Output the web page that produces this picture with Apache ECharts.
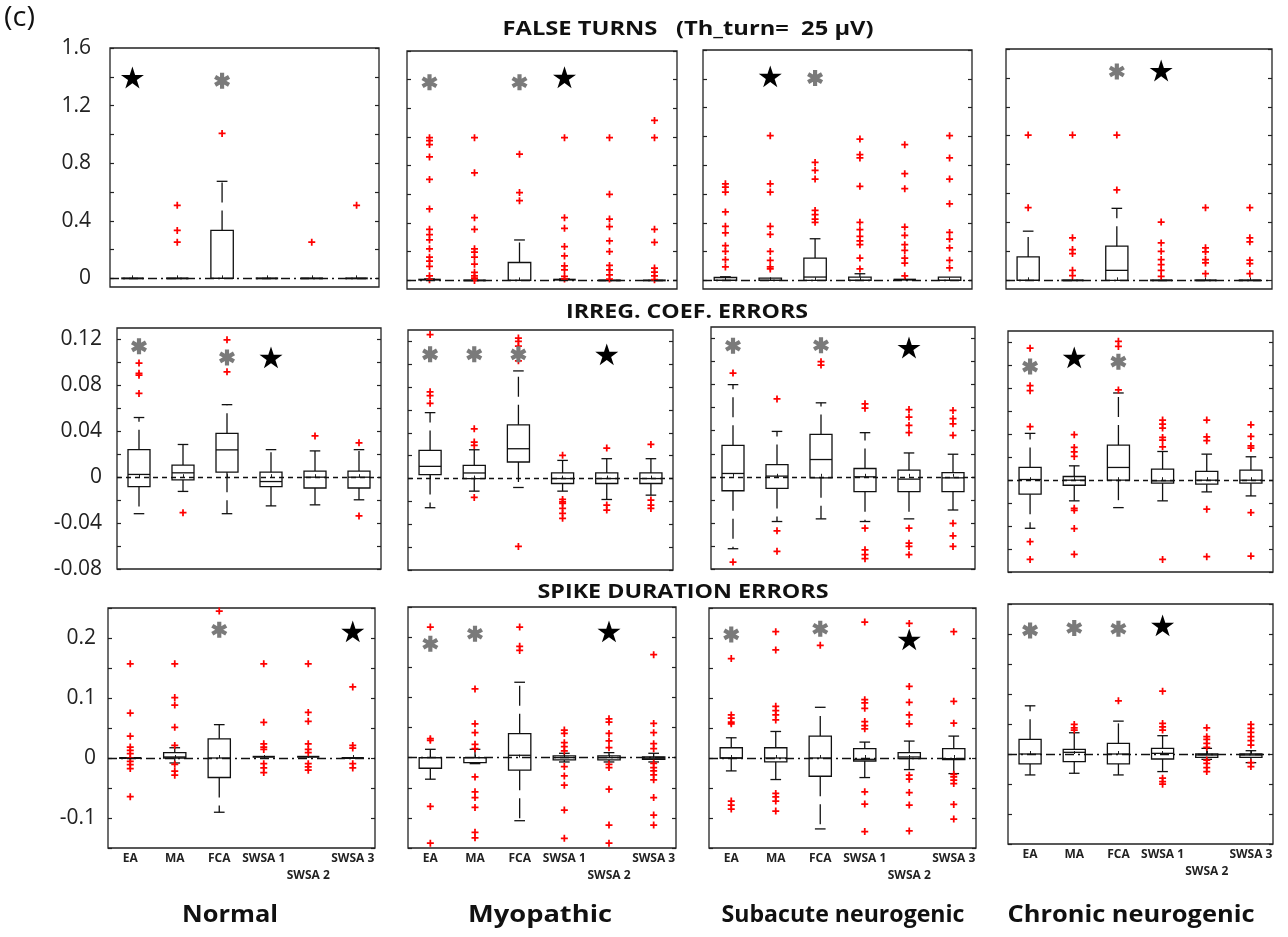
<!DOCTYPE html>
<html><head><meta charset="utf-8">
<script src="https://cdn.jsdelivr.net/npm/echarts@6/dist/echarts.min.js"></script>
<style>html,body{margin:0;padding:0;background:#fff}#c{width:1288px;height:937px}</style>
</head><body><div id="c"></div>
<script>
// ---------- categories / labels ----------
const categories = ['EA','MA','FCA','SWSA 1','SWSA 2','SWSA 3'];
const groupNames = ['Normal','Myopathic','Subacute neurogenic','Chronic neurogenic'];
const rowTitles = ['FALSE TURNS   (Th_turn=  25 \u03bcV)','IRREG. COEF. ERRORS','SPIKE DURATION ERRORS'];

// ---------- y tick values / labels ----------
const ftTicks = [0,0.2,0.4,0.6,0.8,1.0,1.2,1.4,1.6];
const ftTickLabels = [0,0.4,0.8,1.2,1.6];
const icTicks = [-0.08,-0.06,-0.04,-0.02,0,0.02,0.04,0.06,0.08,0.10,0.12];
const icTickLabels = [-0.08,-0.04,0,0.04,0.08,0.12];
const sdTicks = [-0.15,-0.1,-0.05,0,0.05,0.1,0.15,0.2,0.25];
const sdTickLabels = [-0.1,0,0.1,0.2];
const yMins = [-0.06,-0.08,-0.15];
const yMaxs = [1.6,0.13,0.25];

// ---------- FALSE TURNS: boxes [min,q1,median,q3,max] per category ----------
const ftNormBox = [[0,0,0,0,0],[0,0,0,0,0],[0,0,0,0.333,0.674],[0,0,0,0,0],[0,0,0,0,0],[0,0,0,0,0]];
const ftNormOut = [[],[0.507,0.333,0.251],[1.007],[],[0.251],[0.507]];
const ftNormAst = [[2,1.372]];
const ftNormStar = [[0,1.395]];

const ftMyoBox = [[0,0,0,0.005,0.01],[0,0,0,0,0],[0,0,0,0.125,0.282],[0,0,0,0.005,0.01],[0,0,0,0,0],[0,0,0,0,0]];
const ftMyoOut = [
 [0.995,0.975,0.947,0.861,0.704,0.498,0.356,0.319,0.282,0.220,0.162,0.134,0.097,0.032,0.005],
 [0.995,0.75,0.4375,0.356,0.220,0.197,0.162,0.113,0.056,0.032,0.016,0.0],
 [0.880,0.613,0.556],
 [0.995,0.4375,0.363,0.236,0.171,0.102,0.074,0.028,0.009],
 [0.995,0.6,0.428,0.375,0.275,0.201,0.104,0.074,0.039,0.009],
 [1.116,0.995,0.356,0.266,0.086,0.058,0.032,0.005]];
const ftMyoAst = [[0,1.382],[2,1.382]];
const ftMyoStar = [[3,1.417]];

const ftSubBox = [[0,0,0,0.02,0.025],[0,0,0,0.016,0.016],[0,0,0.023,0.155,0.289],[0,0,0,0.023,0.046],[0,0,0,0.005,0.005],[0,0,0,0.023,0.023]];
const ftSubOut = [
 [0.671,0.648,0.613,0.475,0.375,0.329,0.241,0.201,0.144,0.093],
 [1.005,0.671,0.613,0.375,0.319,0.201,0.139,0.093,0.079],
 [0.819,0.764,0.704,0.486,0.456,0.426,0.403],
 [0.981,0.873,0.850,0.653,0.403,0.352,0.306,0.275,0.248,0.155,0.079],
 [0.942,0.741,0.637,0.370,0.313,0.248,0.208,0.155,0.120,0.032],
 [1.005,0.850,0.704,0.532,0.333,0.287,0.225,0.139,0.086]];
const ftSubAst = [[2,1.405]];
const ftSubStar = [[1,1.417]];

const ftChrBox = [[0,0,0,0.162,0.340],[0,0,0,0,0],[0,0,0.069,0.236,0.498],[0,0,0,0,0],[0,0,0,0,0],[0,0,0,0,0]];
const ftChrOut = [
 [1.005,0.502],
 [1.005,0.294,0.213,0.185,0.069,0.032],
 [1.005,0.625],
 [0.403,0.259,0.201,0.144,0.109,0.069,0.028],
 [0.502,0.225,0.197,0.144,0.120,0.046],
 [0.502,0.294,0.266,0.139,0.116,0.046]];
const ftChrAst = [[2,1.444]];
const ftChrStar = [[3,1.451]];

// ---------- IRREG. COEF. ERRORS ----------
const icNormBox = [[-0.0318,-0.0082,0.0024,0.024,0.052],[-0.0124,-0.0024,0.0038,0.0106,0.0285],[-0.0318,0.0044,0.0238,0.0382,0.0632],[-0.025,-0.0082,-0.0038,0.0044,0.024],[-0.0241,-0.0094,0,0.0053,0.0229],[-0.0197,-0.0094,0,0.0053,0.024]];
const icNormOut = [[0.0994,0.0905,0.0889,0.073],[-0.0309],[0.1197,0.0918],[],[0.0359],[0.030,-0.0338]];
const icNormAst = [[0,0.114],[2,0.1044]];
const icNormStar = [[3,0.1044]];

const icMyoBox = [[-0.0255,0.0035,0.0107,0.0246,0.0577],[-0.011,0,0.0049,0.0116,0.0252],[-0.0078,0.0145,0.0261,0.047,0.0942],[-0.011,-0.0043,0,0.0049,0.0159],[-0.0183,-0.0043,0,0.0049,0.0174],[-0.0145,-0.0043,0,0.0049,0.0174]];
const icMyoOut = [
 [0.126,0.0759,0.0725,0.0658],
 [0.0435,0.0319,0.029,-0.0165],
 [0.123,0.12,0.116,0.103,-0.0594],
 [0.0203,-0.0183,-0.0203,-0.0217,-0.0261,-0.0304,-0.0348],
 [0.0267,-0.0232,-0.0275],
 [0.0299,-0.0188,-0.0232,-0.0261]];
const icMyoAst = [[0,0.1087],[1,0.1087],[2,0.1087]];
const icMyoStar = [[4,0.1087]];

const icSubBox = [[-0.0624,-0.0121,0.0029,0.0273,0.08],[-0.0388,-0.0101,0.0006,0.0106,0.0394],[-0.0365,-0.0009,0.015,0.0368,0.0642],[-0.0388,-0.0129,0,0.0072,0.0383],[-0.0365,-0.0129,-0.002,0.0058,0.0207],[-0.0288,-0.0129,-0.0009,0.0037,0.0196]];
const icSubOut = [
 [0.090,-0.074],
 [0.0676,-0.0469,-0.0647],
 [0.0999,0.097],
 [0.0633,0.0596,-0.0446,-0.0633,-0.0676,-0.071],
 [0.0584,0.0518,0.0446,0.0383,-0.0446,-0.0576,-0.0604,-0.0676],
 [0.0576,0.0504,0.046,0.036,-0.0403,-0.0512,-0.0604]];
const icSubAst = [[0,0.1137],[2,0.1142]];
const icSubStar = [[4,0.1122]];

const icChrBox = [[-0.0419,-0.0122,0.0006,0.0111,0.0408],[-0.018,-0.0044,0,0.0032,0.0125],[-0.0239,0,0.0111,0.0306,0.076],[-0.018,-0.0026,-0.0006,0.0096,0.025],[-0.0102,-0.0035,0,0.0076,0.0227],[-0.0137,-0.0026,0,0.0087,0.0204]];
const icChrOut = [
 [0.115,0.0824,0.078,0.0466,-0.0536,-0.069],
 [0.0396,0.0285,0.0247,0.0207,-0.0245,-0.0262,-0.0422,-0.0646],
 [0.121,0.1165,0.0786],
 [0.0524,0.0489,0.0454,0.0373,0.0349,0.0291,-0.069],
 [0.0524,0.0378,0.0344,-0.0253,-0.0667],
 [0.0483,0.0381,0.03,0.0279,-0.0282,-0.0661]];
const icChrAst = [[0,0.099],[2,0.1033]];
const icChrStar = [[1,0.107]];

// ---------- SPIKE DURATION ERRORS ----------
const sdNormBox = [[0,0,0,0,0],[-0.0083,0,0.0017,0.0088,0.0171],[-0.0904,-0.0325,0,0.032,0.0556],[0,0,0.001,0.002,0.002],[0,0,0.001,0.002,0.002],[0,0,0,0,0]];
const sdNormOut = [
 [0.157,0.075,0.0364,0.0182,0.0127,0.0072,0,-0.0055,-0.011,-0.0176,-0.0645],
 [0.157,0.1008,0.0882,0.0512,0.0209,-0.0105,-0.022,-0.0287],
 [0.245],
 [0.157,0.0595,0.0237,0.0182,0.0143,-0.0094,-0.0165,-0.0242],
 [0.157,0.076,0.0612,0.0237,0.0143,0.0088,-0.0094,-0.0149,-0.0204],
 [0.1185,0.0209,0.0165,-0.0094,-0.0165]];
const sdNormAst = [[2,0.2138]];
const sdNormStar = [[5,0.211]];

const sdMyoBox = [[-0.0358,-0.0176,0,0,0.0138],[-0.01,-0.0083,0,0,0.0138],[-0.1047,-0.0209,0.0039,0.0397,0.1251],[-0.0072,-0.0039,0,0.0028,0.0072],[-0.0072,-0.0039,0,0.0028,0.0083],[-0.0072,-0.0028,-0.001,0.001,0.0072]];
const sdMyoOut = [
 [0.2166,0.0314,0.0287,-0.081,-0.142],
 [0.1141,0.0562,0.0413,0.022,0.0149,-0.032,-0.0568,-0.0662,-0.0827,-0.124,-0.133],
 [0.2166,0.1847,0.178],
 [0.0458,0.0402,0.0248,0.0182,0.011,-0.0149,-0.0303,-0.0458,-0.0871,-0.134],
 [0.0645,0.059,0.0402,0.0276,0.0165,-0.011,-0.0165,-0.0524,-0.1119,-0.142],
 [0.1709,0.0568,0.0413,0.0232,0.0149,-0.0094,-0.0165,-0.022,-0.0287,-0.0369,-0.0662,-0.0954,-0.1119]];
const sdMyoAst = [[0,0.189],[1,0.2056]];
const sdMyoStar = [[4,0.2095]];

const sdSubBox = [[-0.0215,0,0,0.0171,0.0337],[-0.0359,-0.0066,0,0.0171,0.0442],[-0.1182,-0.0304,0,0.0365,0.0845],[-0.0326,-0.005,-0.0022,0.0155,0.0265],[-0.0193,-0.0011,0.0017,0.0088,0.0282],[-0.026,-0.0028,-0.0011,0.0155,0.0365]];
const sdSubOut = [
 [0.1657,0.0718,0.0663,0.0597,0.0569,-0.0718,-0.0785,-0.0851],
 [0.2105,0.1801,0.0862,0.079,0.0718,0.0635,-0.0591,-0.0646,-0.0718,-0.0884],
 [0.1878],
 [0.2265,0.0972,0.0917,0.0829,0.0608,0.0541,0.0486,-0.0564,-0.0768,-0.1227],
 [0.2243,0.1193,0.0928,0.0718,0.0569,-0.0287,-0.0354,-0.0575,-0.0785,-0.1215],
 [0.2105,0.0945,0.058,-0.0271,-0.0315,-0.037,-0.0425,-0.0773,-0.1017]];
const sdSubAst = [[0,0.206],[2,0.2155]];
const sdSubStar = [[4,0.1978]];

const sdChrBox = [[-0.0349,-0.0166,0,0.0244,0.0803],[-0.0321,-0.0127,0.0028,0.0078,0.0354],[-0.0349,-0.0166,0,0.0177,0.0548],[-0.0293,-0.0083,0.0011,0.0094,0.0305],[-0.0089,-0.0055,-0.0017,0,0.0094],[-0.0144,-0.0055,-0.0017,0,0.0055]];
const sdChrOut = [
 [],
 [0.0493,0.0437,0.0399],
 [0.0886],
 [0.1047,0.0509,0.0454,0.0399,-0.0404,-0.046,-0.0504],
 [0.0437,0.0288,0.0244,0.0177,0.0111,-0.01,-0.0155,-0.0227,-0.0293],
 [0.0493,0.0426,0.036,0.0288,0.0221,0.015,-0.0144,-0.021]];
const sdChrAst = [[0,0.206],[1,0.2099],[2,0.2088]];
const sdChrStar = [[3,0.2143]];

// ---------- lookup tables built from the arrays above ----------
const panelBoxes = [ftNormBox,ftMyoBox,ftSubBox,ftChrBox, icNormBox,icMyoBox,icSubBox,icChrBox, sdNormBox,sdMyoBox,sdSubBox,sdChrBox];
const panelOut = [ftNormOut,ftMyoOut,ftSubOut,ftChrOut, icNormOut,icMyoOut,icSubOut,icChrOut, sdNormOut,sdMyoOut,sdSubOut,sdChrOut];
const panelAst = [ftNormAst,ftMyoAst,ftSubAst,ftChrAst, icNormAst,icMyoAst,icSubAst,icChrAst, sdNormAst,sdMyoAst,sdSubAst,sdChrAst];
const panelStar = [ftNormStar,ftMyoStar,ftSubStar,ftChrStar, icNormStar,icMyoStar,icSubStar,icChrStar, sdNormStar,sdMyoStar,sdSubStar,sdChrStar];
const rowTicks = [ftTicks, icTicks, sdTicks];
const rowTickLabels = [ftTickLabels, icTickLabels, sdTickLabels];

// ---------- layout (pixels) ----------
const gridRects = [
 [110,48,269,239],[407,51,270,238],[703,50,269,239],[1006,49,266,240],
 [117,328,264,241],[408,330,265,240],[711,327,264,242],[1008,331,265,241],
 [108,608,267,240],[408,607,268,241],[709,608,267,240],[1008,604,265,240]];
const labelMargins = [19,15,12];
const FONT = 'Open Sans';

const PLUS = 'path://M3,0H5V3H8V5H5V8H3V5H0V3H3Z';
const STAR = 'path://M50,0L61.23,34.55L97.55,34.55L68.17,55.9L79.39,90.45L50,69.1L20.61,90.45L31.83,55.9L2.45,34.55L38.77,34.55Z';
const AST = 'path://M37,0H63V100H37Z M86.8,13.74L99.8,36.26L13.2,86.26L0.2,63.74Z M13.2,13.74L99.8,63.74L86.8,86.26L0.2,36.26Z';

function boxRender(params, api) {
  const cat = api.value(0);
  const lo = api.coord([cat, api.value(1)]);
  const q1 = api.coord([cat, api.value(2)]);
  const md = api.coord([cat, api.value(3)]);
  const q3 = api.coord([cat, api.value(4)]);
  const hi = api.coord([cat, api.value(5)]);
  const band = api.size([1, 0])[0];
  const hw = band * 0.25, cw = band * 0.12;
  const x = lo[0];
  const solid = {stroke:'#111', lineWidth:1.3, fill:'none'};
  const dashed = {stroke:'#111', lineWidth:1.3, fill:'none', lineDash:[20,8]};
  const ch = [];
  const line = (x1,y1,x2,y2,st) => ch.push({type:'line', shape:{x1,y1,x2,y2}, style:st});
  if (q3[1] - hi[1] > 0.5) { line(x, q3[1], x, hi[1], dashed); line(x-cw, hi[1], x+cw, hi[1], solid); }
  if (lo[1] - q1[1] > 0.5) { line(x, q1[1], x, lo[1], dashed); line(x-cw, lo[1], x+cw, lo[1], solid); }
  if (q1[1] - q3[1] < 1.5) {
    line(x-hw, q3[1], x+hw, q3[1], {stroke:'#111', lineWidth:2, fill:'none'});
  } else {
    ch.push({type:'rect', shape:{x:x-hw, y:q3[1], width:2*hw, height:q1[1]-q3[1]}, style:solid});
    line(x-hw, md[1], x+hw, md[1], solid);
  }
  return {type:'group', children: ch};
}

const fmt = v => String(+(+v).toFixed(2));

const grid = [], xAxis = [], yAxis = [], series = [];
for (let i = 0; i < 12; i++) {
  const r = Math.floor(i / 4), c = i % 4;
  const g = gridRects[i];
  grid.push({left:g[0], top:g[1], width:g[2], height:g[3], show:true, borderColor:'#222', borderWidth:1.3, backgroundColor:'transparent', containLabel:false, outerBoundsMode:'none'});
  xAxis.push({gridIndex:i, type:'category', data:categories, boundaryGap:true,
    axisLine:{show:false}, splitLine:{show:false},
    axisTick:{show:true, inside:true, alignWithLabel:true, length:3, lineStyle:{color:'#222'}},
    axisLabel:{show: r === 2, interval:0, fontSize:12, fontWeight:'bold', fontFamily:FONT, color:'#222', margin:2, lineHeight:17,
      formatter:(v, idx) => idx === 4 ? '\n' + v : v}});
  const tickCfg = {show:true, inside:true, length:4, customValues: rowTicks[r], lineStyle:{color:'#222', width:1.2}};
  yAxis.push({gridIndex:i, type:'value', min:yMins[r], max:yMaxs[r], position:'left',
    axisLine:{show:false}, splitLine:{show:false}, axisTick:tickCfg,
    axisLabel:{show: c === 0, customValues: rowTickLabels[r], formatter: fmt, fontSize:21, fontFamily:FONT, color:'#222', margin: labelMargins[r]}});
  yAxis.push({gridIndex:i, type:'value', min:yMins[r], max:yMaxs[r], position:'right',
    axisLine:{show:false}, splitLine:{show:false}, axisTick:tickCfg, axisLabel:{show:false}});

  const boxData = panelBoxes[i].map((b, k) => [k].concat(b));
  const outData = [];
  panelOut[i].forEach((arr, k) => arr.forEach(v => outData.push([k, v])));

  series.push({type:'scatter', xAxisIndex:i, yAxisIndex:2*i, data:outData, symbol:PLUS, symbolSize:7,
    itemStyle:{color:'#ff0000', opacity:1}, silent:true, z:3,
    markLine:{silent:true, symbol:['none','none'], label:{show:false}, animation:false,
      lineStyle:{color:'#111', width:1.3, type: r === 1 ? [5,4] : [9,4,2,4]}, data:[{yAxis:0}]}});
  series.push({type:'custom', xAxisIndex:i, yAxisIndex:2*i, data:boxData, renderItem:boxRender,
    encode:{x:0, y:[1,2,3,4,5]}, silent:true, z:2});
  series.push({type:'scatter', xAxisIndex:i, yAxisIndex:2*i, data:panelAst[i], symbol:AST, symbolSize:16,
    itemStyle:{color:'#7a7a7a', opacity:1}, silent:true, z:4});
  series.push({type:'scatter', xAxisIndex:i, yAxisIndex:2*i, data:panelStar[i], symbol:STAR, symbolSize:23, symbolKeepAspect:true,
    itemStyle:{color:'#000', opacity:1}, silent:true, z:4});
}

// ---------- free texts, stretched horizontally to the reference widths ----------
const mctx = document.createElement('canvas').getContext('2d');
function fitText(text, x, y, size, weight, targetW, align) {
  const font = weight + ' ' + size + 'px "' + FONT + '"';
  mctx.font = font;
  const w = mctx.measureText(text).width;
  return {type:'text', x, y, scaleX: targetW / w, style:{text, align: align || 'center', verticalAlign:'middle',
    fontSize:size, fontWeight:weight, fontFamily:FONT, fill:'#111'}};
}
const titlePos = [[688,30,371],[687,313,242],[683,593,291]];
const groupPos = [[230,96],[540,144],[843,243],[1131,247]];
const graphic = [fitText('(c)', 4, 18, 28, 'normal', 31, 'left')];
rowTitles.forEach((t, r) => graphic.push(fitText(t, titlePos[r][0], titlePos[r][1], 19, 'bold', titlePos[r][2])));
groupNames.forEach((t, c) => graphic.push(fitText(t, groupPos[c][0], 915, 24, 'bold', groupPos[c][1])));

const chart = echarts.init(document.getElementById('c'), null, {renderer:'canvas'});
chart.setOption({animation:false, backgroundColor:'#fff', grid, xAxis, yAxis, series, graphic});
</script></body></html>
